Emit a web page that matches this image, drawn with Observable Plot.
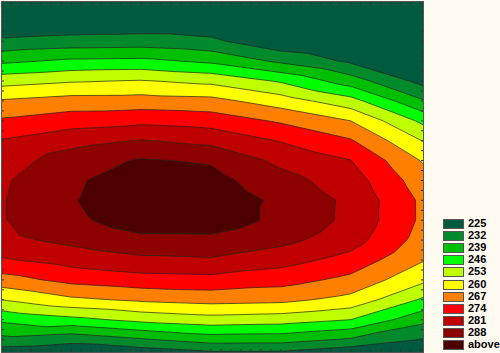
<!DOCTYPE html>
<html>
<head>
<meta charset="utf-8">
<script src="https://cdn.jsdelivr.net/npm/d3@7"></script>
<script src="https://cdn.jsdelivr.net/npm/@observablehq/plot@0.6"></script>
<style>
  html, body { margin: 0; padding: 0; background: #FFFAEF; }
  #wrap { position: relative; width: 500px; height: 353px; background: #FFFAEF; overflow: hidden; }
  #chart { position: absolute; left: 0; top: 0; }
  .item { position: absolute; left: 443px; height: 9px; font: bold 11px "Liberation Sans", Arial, sans-serif; color: #000; }
  .sw { position: absolute; left: 0; top: 0; width: 19px; height: 8px; border: 1px solid #555; }
  .lb { position: absolute; left: 25px; top: -2px; white-space: nowrap; }
</style>
</head>
<body>
<div id="wrap"><div id="chart"></div><div id="legend"></div></div>
<script>
// Sample positions (horizontal and vertical) of the gridded surface
const xs = [0, 70, 140, 210, 280, 350, 423];
const ys = [0, 20, 40, 60, 80, 100, 120, 140, 160, 180, 200, 220, 240, 260, 280, 300, 320, 340, 353];

// Surface values per column (top to bottom)
const colX0   = [212, 218, 226.4, 237.6, 250.3, 260.7, 268.0, 274.5, 277.6, 280, 280.5, 280.5, 279.1, 273.2, 264.1, 253, 240.4, 229.9, 221];
const colX70  = [213, 219, 227.8, 240.3, 252.4, 262.8, 270.9, 278.5, 284.5, 287, 287.5, 286.5, 282.8, 276.7, 269.1, 258.6, 244, 227.1, 220];
const colX140 = [213, 219.5, 228.3, 240.75, 253.5, 263, 272.25, 281.4, 288.7, 291.5, 293, 291.5, 286.3, 279.4, 271.2, 261.1, 247.9, 231.2, 221];
const colX210 = [214, 219.5, 226.5, 237.7, 251.25, 262.2, 270.9, 279.1, 287.2, 290.5, 292.5, 291.5, 286.5, 280.2, 271.8, 262.5, 250.2, 235.1, 224];
const colX280 = [208, 213, 219.5, 230.7, 245.2, 256.5, 266.1, 273.6, 279.3, 283.5, 286.5, 286.5, 283, 276.7, 269.8, 261.75, 249.2, 234.8, 224];
const colX350 = [206, 211, 216, 223.8, 235.5, 248.7, 260, 267.7, 274.2, 277.5, 279.5, 279.3, 277, 271.5, 265.1, 257.8, 246, 231.1, 220];
const colX423 = [200, 205, 210, 215, 222.5, 232.6, 244.25, 252.6, 259.3, 263, 265.5, 265.5, 264, 260.4, 254.5, 244.8, 234, 224.5, 218];

// Contour levels and legend
const thresholds = [225, 232, 239, 246, 253, 260, 267, 274, 281, 288];
const legendLabels = ["225", "232", "239", "246", "253", "260", "267", "274", "281", "288", "above"];
const legendColors = ["#005A3E", "#008A2C", "#00BE00", "#00FF00", "#BFFF00", "#FFFF00", "#FF8000", "#FF0000", "#C00000", "#8C0000", "#4C0000"];

const columns = [colX0, colX70, colX140, colX210, colX280, colX350, colX423];
const points = [];
columns.forEach((col, i) => col.forEach((v, j) => points.push({x: xs[i], y: ys[j], v})));

const chart = Plot.plot({
  width: 424,
  height: 353,
  marginLeft: 1, marginRight: 1, marginTop: 1, marginBottom: 1,
  x: {domain: [0, 423], axis: null},
  y: {domain: [0, 353], reverse: true, axis: null},
  color: {type: "threshold", domain: thresholds.slice(1), range: legendColors.slice(1)},
  style: {background: "#FFFAEF"},
  marks: [
    Plot.frame({fill: legendColors[0]}),
    Plot.contour(points, {
      x: "x", y: "y", fill: "v",
      interpolate: "barycentric",
      thresholds,
      pixelSize: 1,
      stroke: "#222",
      strokeWidth: 0.7
    }),
    Plot.axisX({anchor: "top", ticks: 35, tickSize: -3, tickFormat: () => "", label: null, stroke: "#333"}),
    Plot.axisX({anchor: "bottom", ticks: 35, tickSize: -3, tickFormat: () => "", label: null, stroke: "#333"}),
    Plot.axisY({anchor: "left", ticks: 30, tickSize: -3, tickFormat: () => "", label: null, stroke: "#333"}),
    Plot.axisY({anchor: "right", ticks: 30, tickSize: -3, tickFormat: () => "", label: null, stroke: "#333"}),
    Plot.frame({stroke: "#555"})
  ]
});
document.getElementById("chart").appendChild(chart);

const legend = document.getElementById("legend");
legendLabels.forEach((lab, i) => {
  const it = document.createElement("div");
  it.className = "item";
  it.style.top = (219 + i * 12.1) + "px";
  it.innerHTML = `<div class="sw" style="background:${legendColors[i]}"></div><div class="lb">${lab}</div>`;
  legend.appendChild(it);
});
</script>
</body>
</html>
